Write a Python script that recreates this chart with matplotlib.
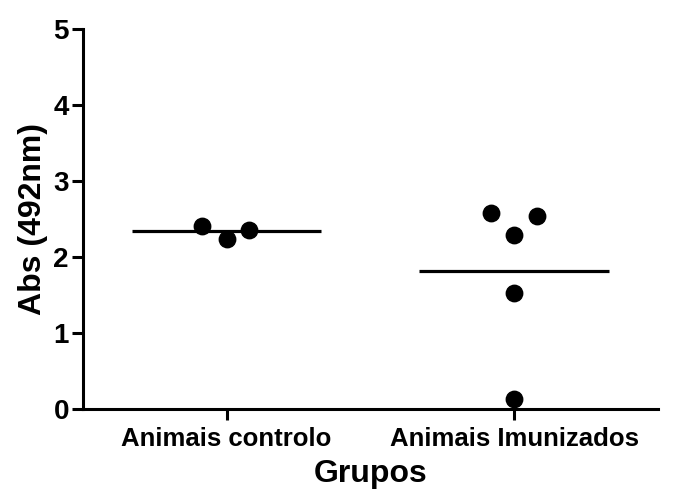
import matplotlib
matplotlib.use("Agg")
import matplotlib.pyplot as plt
import numpy as np

# data
groups = ["Animais controlo", "Animais Imunizados"]
controlo = [2.41, 2.24, 2.36]
imunizados = [2.58, 2.54, 2.29, 1.53, 0.13]

# horizontal scatter of the points inside each column (layout only)
offsets_controlo = [-0.085, 0.0, 0.077]
offsets_imunizados = [-0.08, 0.08, 0.0, 0.0, 0.0]

plt.rcParams['font.family'] = ['Liberation Sans', 'DejaVu Sans']
plt.rcParams['font.weight'] = 'bold'

fig = plt.figure(figsize=(6.84, 4.97), dpi=100)
ax = fig.add_axes([0.121, 0.177, 0.841, 0.765])

pos = np.arange(1, len(groups) + 1)
for p, vals, offs in zip(pos, [controlo, imunizados], [offsets_controlo, offsets_imunizados]):
    ax.scatter(p + np.array(offs), vals, s=140, color='black', zorder=3, clip_on=False)
    ax.hlines(np.mean(vals), p - 0.33, p + 0.33, color='black', linewidth=2.3, zorder=2)

ax.set_xlim(0.5, 2.5)
ax.set_ylim(0, 5)
ax.set_xticks(pos)
ax.set_xticklabels(groups, fontsize=18.5, fontweight='bold')
ax.set_yticks(range(0, 6))
ax.set_yticklabels([str(v) for v in range(0, 6)], fontsize=20, fontweight='bold')

for side in ['top', 'right']:
    ax.spines[side].set_visible(False)
for side in ['left', 'bottom']:
    ax.spines[side].set_linewidth(2.2)
ax.tick_params(axis='both', length=8, width=2.2, pad=2)
ax.tick_params(axis='x', pad=5)

ax.set_ylabel('Abs (492nm)', fontsize=23, fontweight='bold', labelpad=4)
ax.set_xlabel('Grupos', fontsize=23, fontweight='bold', labelpad=6)

fig.savefig('out.png', dpi=100)
